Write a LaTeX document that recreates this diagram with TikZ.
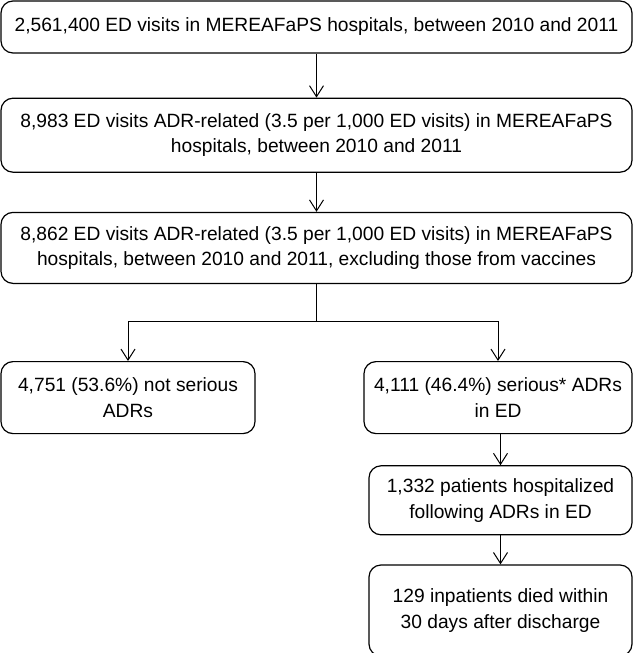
\documentclass[tikz,border=0pt]{standalone}
\usepackage{fontspec}
\setmainfont{Liberation Sans}
\usetikzlibrary{positioning,arrows.meta}
\newcommand{\boxtext}{\fontsize{19.2}{25.5}\selectfont}

\begin{document}
\begin{tikzpicture}[
  font=\boxtext,
  stage/.style={rectangle, rounded corners=12pt, draw=black, line width=1.2pt,
    fill=white, align=center, inner sep=4pt, text=black},
  wide/.style={stage, minimum width=631pt},
  half/.style={stage, minimum height=72pt},
  flow/.style={-{Straight Barb[length=11pt, width=14pt]}, draw=black, line width=1pt},
]
\useasboundingbox (0,0) rectangle (634pt,-653pt);

% ---- nodes ----
\node[wide, minimum height=52pt] (visits) at (316.5pt,-27pt)
  {2,561,400 ED visits in MEREAFaPS hospitals, between 2010 and 2011};

\node[wide, minimum height=74pt, below=44pt of visits] (adr)
  {8,983 ED visits ADR-related (3.5 per 1,000 ED visits) in MEREAFaPS\\
   hospitals, between 2010 and 2011};

\node[wide, minimum height=71pt, below=39pt of adr] (novacc)
  {8,862 ED visits ADR-related (3.5 per 1,000 ED visits) in MEREAFaPS\\
   hospitals, between 2010 and 2011, excluding those from vaccines};

\node[half, minimum width=254pt, below=77pt of novacc.south west, anchor=north west] (notserious)
  {4,751 (53.6\%) not serious\\ADRs};

\node[half, minimum width=268pt, below=77pt of novacc.south east, anchor=north east] (serious)
  {4,111 (46.4\%) serious* ADRs\\in ED};

\node[stage, minimum width=263pt, minimum height=69pt, below=31pt of serious.south east, anchor=north east] (hosp)
  {1,332 patients hospitalized\\following ADRs in ED};

\node[stage, minimum width=263pt, minimum height=91pt, below=29pt of hosp] (died)
  {129 inpatients died within\\30 days after discharge};

% ---- edges ----
\draw[flow] (visits) -- (adr);
\draw[flow] (adr) -- (novacc);
\draw[flow] (novacc.south) -- ++(0,-37.6pt) -| (notserious.north);
\draw[flow] (novacc.south) -- ++(0,-37.6pt) -| (serious.north);
\draw[flow] (hosp.north |- serious.south) -- (hosp.north);
\draw[flow] (hosp) -- (died);

\end{tikzpicture}
\end{document}
